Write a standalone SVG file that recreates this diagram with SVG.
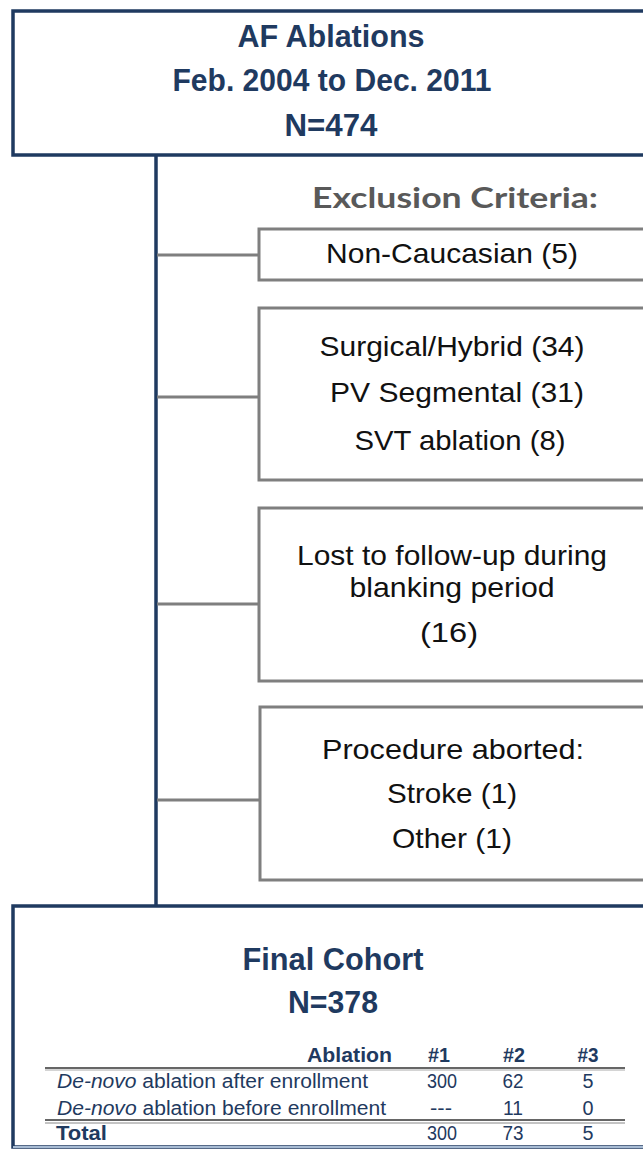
<svg xmlns="http://www.w3.org/2000/svg" width="643" height="1149" viewBox="0 0 643 1149">
<style>
.navybox{fill:#fff;stroke:#1f3a60;stroke-width:3.5}
.graybox{fill:#fff;stroke:#7f7f7f;stroke-width:3}
.conn{stroke:#7f7f7f;stroke-width:3;fill:none}
.trunk{stroke:#1f3a60;stroke-width:3.5;fill:none}
.title{font-family:"Liberation Sans",Arial,sans-serif;font-weight:bold;font-size:31px;fill:#1f3a60;text-anchor:middle}
.excl{font-family:"Lato","Open Sans",sans-serif;font-weight:bold;font-size:28px;fill:#595959;text-anchor:middle}
.lbl{font-family:"Liberation Sans",Arial,sans-serif;font-size:28px;fill:#111;text-anchor:middle}
.tb{font-family:"Liberation Sans",Arial,sans-serif;font-size:20px;fill:#1f3a60}
.tbb{font-family:"Liberation Sans",Arial,sans-serif;font-size:20px;fill:#1f3a60;font-weight:bold}
.mid{text-anchor:middle}
</style>
<g id="connectors">
<line class="trunk" x1="156" y1="155" x2="156" y2="906"/>
<line class="conn" x1="157" y1="255" x2="259" y2="255"/>
<line class="conn" x1="157" y1="397" x2="259" y2="397"/>
<line class="conn" x1="157" y1="604" x2="259" y2="604"/>
<line class="conn" x1="157" y1="800" x2="259" y2="800"/>
</g>
<g id="top">
<rect class="navybox" x="13" y="11" width="640" height="144"/>
<text class="title" x="331" y="47" textLength="187" lengthAdjust="spacingAndGlyphs">AF Ablations</text>
<text class="title" x="332" y="91" textLength="319" lengthAdjust="spacingAndGlyphs">Feb. 2004 to Dec. 2011</text>
<text class="title" x="331" y="136" textLength="93" lengthAdjust="spacingAndGlyphs">N=474</text>
</g>
<g id="exclusion-title">
<text class="excl" x="455" y="208" textLength="286" lengthAdjust="spacingAndGlyphs">Exclusion Criteria:</text>
</g>
<g id="ex1">
<rect class="graybox" x="259" y="229" width="400" height="51"/>
<text class="lbl" x="452" y="263" textLength="252" lengthAdjust="spacingAndGlyphs">Non-Caucasian (5)</text>
</g>
<g id="ex2">
<rect class="graybox" x="259" y="308" width="400" height="172"/>
<text class="lbl" x="452" y="356" textLength="265" lengthAdjust="spacingAndGlyphs">Surgical/Hybrid (34)</text>
<text class="lbl" x="457" y="402" textLength="254" lengthAdjust="spacingAndGlyphs">PV Segmental (31)</text>
<text class="lbl" x="460" y="450" textLength="211" lengthAdjust="spacingAndGlyphs">SVT ablation (8)</text>
</g>
<g id="ex3">
<rect class="graybox" x="259" y="508" width="400" height="173"/>
<text class="lbl" x="452" y="565" textLength="310" lengthAdjust="spacingAndGlyphs">Lost to follow-up during</text>
<text class="lbl" x="452" y="597" textLength="205" lengthAdjust="spacingAndGlyphs">blanking period</text>
<text class="lbl" x="449" y="642" textLength="58" lengthAdjust="spacingAndGlyphs">(16)</text>
</g>
<g id="ex4">
<rect class="graybox" x="260" y="707" width="400" height="173"/>
<text class="lbl" x="453" y="759" textLength="262" lengthAdjust="spacingAndGlyphs">Procedure aborted:</text>
<text class="lbl" x="452" y="803" textLength="130" lengthAdjust="spacingAndGlyphs">Stroke (1)</text>
<text class="lbl" x="452" y="848" textLength="120" lengthAdjust="spacingAndGlyphs">Other (1)</text>
</g>
<g id="final">
<rect class="navybox" x="13" y="906" width="640" height="241"/>
<line x1="13" y1="1147" x2="643" y2="1147" stroke="#a8bcd4" stroke-width="2"/>
<text class="title" x="333" y="970" textLength="181" lengthAdjust="spacingAndGlyphs">Final Cohort</text>
<text class="title" x="333" y="1013" textLength="90" lengthAdjust="spacingAndGlyphs">N=378</text>
<text class="tbb" x="392" y="1062" text-anchor="end" textLength="85" lengthAdjust="spacingAndGlyphs">Ablation</text>
<text class="tbb mid" x="439" y="1062" textLength="22" lengthAdjust="spacingAndGlyphs">#1</text>
<text class="tbb mid" x="514" y="1062" textLength="22" lengthAdjust="spacingAndGlyphs">#2</text>
<text class="tbb mid" x="588" y="1062" textLength="21" lengthAdjust="spacingAndGlyphs">#3</text>
<line x1="45" y1="1068" x2="625" y2="1068" stroke="#333" stroke-width="1.5"/>
<line x1="45" y1="1070" x2="625" y2="1070" stroke="#aaa" stroke-width="1"/>
<text class="tb" x="57" y="1088" textLength="311" lengthAdjust="spacingAndGlyphs"><tspan font-style="italic">De-novo</tspan> ablation after enrollment</text>
<text class="tb mid" x="442" y="1088" textLength="30" lengthAdjust="spacingAndGlyphs">300</text>
<text class="tb mid" x="513" y="1088" textLength="21" lengthAdjust="spacingAndGlyphs">62</text>
<text class="tb mid" x="588" y="1088" textLength="11" lengthAdjust="spacingAndGlyphs">5</text>
<text class="tb" x="57" y="1115" textLength="329" lengthAdjust="spacingAndGlyphs"><tspan font-style="italic">De-novo</tspan> ablation before enrollment</text>
<text class="tb mid" x="441" y="1115" textLength="22" lengthAdjust="spacingAndGlyphs">---</text>
<text class="tb mid" x="513" y="1115" textLength="20" lengthAdjust="spacingAndGlyphs">11</text>
<text class="tb mid" x="588" y="1115" textLength="11" lengthAdjust="spacingAndGlyphs">0</text>
<line x1="45" y1="1120" x2="625" y2="1120" stroke="#333" stroke-width="1.5"/>
<line x1="45" y1="1123" x2="625" y2="1123" stroke="#888" stroke-width="1"/>
<text class="tbb" x="56" y="1140" textLength="51" lengthAdjust="spacingAndGlyphs">Total</text>
<text class="tb mid" x="442" y="1140" textLength="30" lengthAdjust="spacingAndGlyphs">300</text>
<text class="tb mid" x="513" y="1140" textLength="21" lengthAdjust="spacingAndGlyphs">73</text>
<text class="tb mid" x="588" y="1140" textLength="11" lengthAdjust="spacingAndGlyphs">5</text>
</g>
</svg>
